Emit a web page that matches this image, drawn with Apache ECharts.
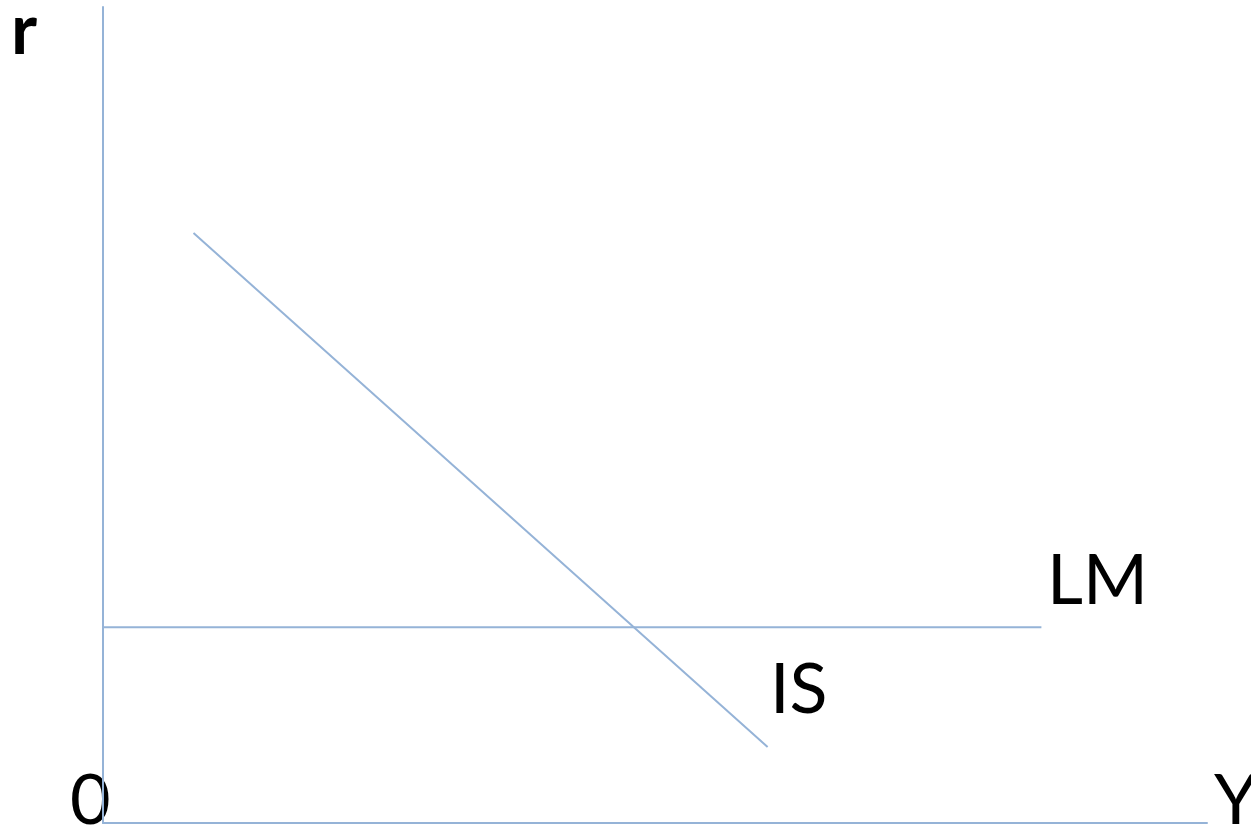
<!DOCTYPE html>
<html>
<head>
<meta charset="utf-8">
<script src="https://cdn.jsdelivr.net/npm/echarts@6/dist/echarts.min.js"></script>
<style>
  html, body { margin: 0; padding: 0; background: #fff; }
  #chart { width: 1251px; height: 838px; }
</style>
</head>
<body>
<div id="chart"></div>
<script>
// IS-LM diagram, axes run 0..100 in both directions
const lmLine = [[0, 24], [85, 24]];
const isLine = [[8.2, 72.3], [60.2, 9.3]];
const curveLabels = ['LM', 'IS'];
const axisLabels = ['r', 'Y', '0'];

const lineColor = '#95B3D7';
const labelFont = { fontSize: 70, fontFamily: 'Lato, sans-serif', fill: '#000' };

const chart = echarts.init(document.getElementById('chart'));

const option = {
  animation: false,
  grid: { left: 103, right: 44, top: 7, bottom: 15 },
  xAxis: {
    type: 'value', min: 0, max: 100,
    axisLine: { show: true, lineStyle: { color: lineColor, width: 2 } },
    axisTick: { show: false }, axisLabel: { show: false }, splitLine: { show: false }
  },
  yAxis: {
    type: 'value', min: 0, max: 100,
    axisLine: { show: true, lineStyle: { color: lineColor, width: 2 } },
    axisTick: { show: false }, axisLabel: { show: false }, splitLine: { show: false }
  },
  series: [
    {
      name: curveLabels[0], type: 'line', data: lmLine, symbol: 'none',
      lineStyle: { color: lineColor, width: 2 }
    },
    {
      name: curveLabels[1], type: 'line', data: isLine, symbol: 'none',
      lineStyle: { color: lineColor, width: 2 }
    }
  ],
  graphic: [
    { type: 'text', left: 11, top: -4, style: Object.assign({ text: axisLabels[0], fontWeight: 'bold' }, labelFont) },
    { type: 'text', left: 1214, top: 766, style: Object.assign({ text: axisLabels[1] }, labelFont) },
    { type: 'text', left: 70, top: 766, style: Object.assign({ text: axisLabels[2] }, labelFont) },
    { type: 'text', left: 1047, top: 546, style: Object.assign({ text: curveLabels[0] }, labelFont) },
    { type: 'text', left: 770, top: 655, style: Object.assign({ text: curveLabels[1] }, labelFont) }
  ]
};

chart.setOption(option);
</script>
</body>
</html>
